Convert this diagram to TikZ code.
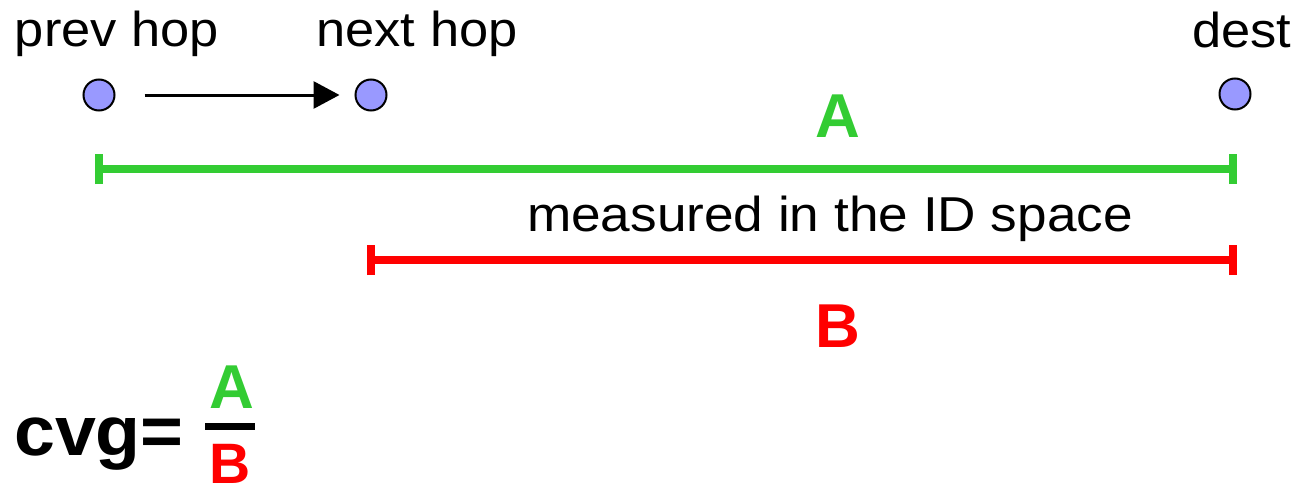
\documentclass[tikz,border=0pt]{standalone}
\usepackage{fontspec}
\setmainfont{Liberation Sans}
\usepackage{graphicx}
\usetikzlibrary{arrows.meta}
\definecolor{dotblue}{HTML}{9999FF}
\definecolor{grn}{HTML}{33CC33}
\definecolor{rd}{HTML}{FF0000}
\newcommand\hx[1]{\scalebox{1.07}[1]{#1}}
\begin{document}
\begin{tikzpicture}[x=1pt,y=-1pt,
  lbl/.style={font=\fontsize{49}{55}\selectfont, inner sep=0pt, anchor=base},
  bigl/.style={font=\bfseries\fontsize{62}{66}\selectfont, inner sep=0pt, anchor=base},
  dot/.style={circle, draw=black, line width=2pt, fill=dotblue, minimum size=31pt, inner sep=0pt},
  dimbar/.style={line width=8pt, line cap=butt},
]
\useasboundingbox (0,0) rectangle (1298,487);
% nodes
\node[dot] (p) at (99,95) {};
\node[dot] (n) at (371,95) {};
\node[dot] (d) at (1235,94) {};
\node[lbl] (pl) at (117,47) {\hx{prev hop}};
\node[lbl] (nl) at (417,47) {\hx{next hop}};
\node[lbl] (dl) at (1242,48) {\hx{dest}};
% arrow
\draw[line width=3pt, -{Triangle[length=26pt,width=27pt]}, shorten <=29pt, shorten >=15pt] (p) -- (n);
% green bar A
\coordinate (g1) at (99,169);
\coordinate (g2) at (1233,169);
\draw[dimbar, grn] (g1) -- (g2);
\draw[dimbar, grn] ([yshift=-15pt]g1) -- ([yshift=15pt]g1);
\draw[dimbar, grn] ([yshift=-15pt]g2) -- ([yshift=15pt]g2);
\node[bigl, text=grn] (la) at (838,137) {A};
% text
\node[lbl] (ms) at (830,231) {\scalebox{1.085}[1]{measured in the ID space}};
% red bar B
\coordinate (r1) at (371,260);
\coordinate (r2) at (1233,260);
\draw[dimbar, rd] (r1) -- (r2);
\draw[dimbar, rd] ([yshift=-15pt]r1) -- ([yshift=15pt]r1);
\draw[dimbar, rd] ([yshift=-15pt]r2) -- ([yshift=15pt]r2);
\node[bigl, text=rd] (lb) at (838,347) {B};
% formula
\node[font=\bfseries\fontsize{70}{76}\selectfont, inner sep=0pt, anchor=base west] (cvg) at (14,455) {\scalebox{1.05}[1]{cvg=}};
\node[font=\bfseries\fontsize{62}{66}\selectfont, inner sep=0pt, anchor=base, text=grn] (fa) at (232,408) {A};
\coordinate (f1) at (205,426.5);
\coordinate (f2) at (255,426.5);
\draw[line width=7pt] (f1) -- (f2);
\node[font=\bfseries\fontsize{57}{62}\selectfont, inner sep=0pt, anchor=base, text=rd] (fb) at (230,483) {B};
\end{tikzpicture}
\end{document}
